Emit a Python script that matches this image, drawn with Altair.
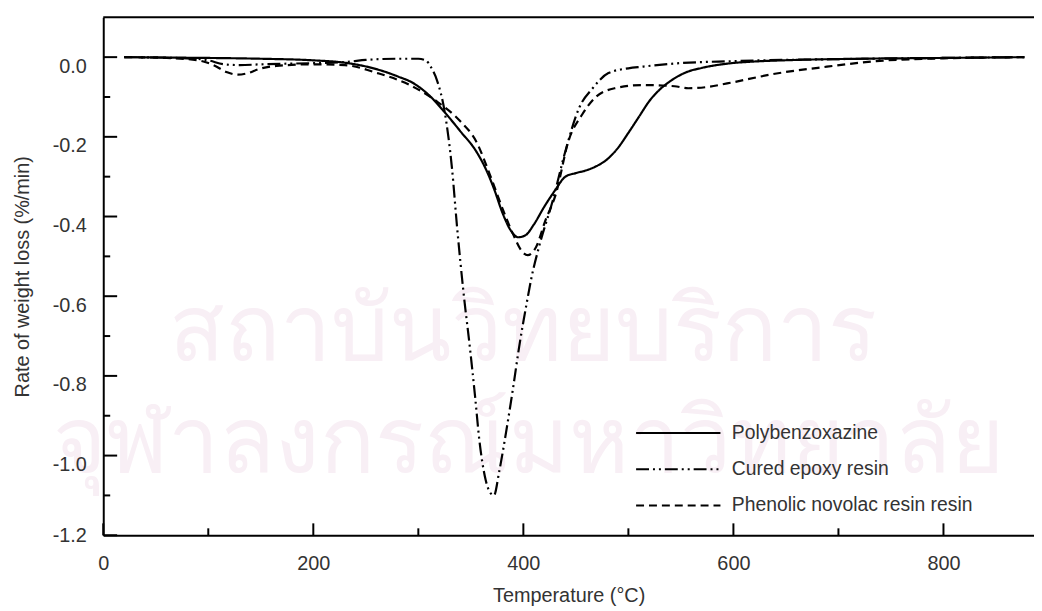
import altair as alt
import pandas as pd

# ---------------- data ----------------
series_names = ["Polybenzoxazine", "Cured epoxy resin", "Phenolic novolac resin resin"]

poly_T = [20, 60, 100, 150, 200, 230, 260, 280, 295, 310, 325, 340, 355, 365, 372, 380, 388, 395,
          402, 410, 420, 430, 440, 450, 460, 470, 480, 490, 500, 510, 520, 530, 540, 555, 570, 595,
          620, 660, 720, 800, 877]
poly_v = [0.0, -0.001, -0.002, -0.004, -0.008, -0.014, -0.030, -0.048, -0.065, -0.095, -0.138, -0.186,
          -0.236, -0.285, -0.330, -0.390, -0.435, -0.452, -0.447, -0.420, -0.375, -0.335, -0.300,
          -0.291, -0.284, -0.273, -0.256, -0.228, -0.190, -0.150, -0.110, -0.081, -0.060, -0.038,
          -0.027, -0.016, -0.011, -0.007, -0.004, -0.002, 0.0]

epoxy_T = [20, 80, 100, 115, 130, 150, 200, 232, 250, 280, 300, 307, 312, 318, 325, 332, 337, 343, 349,
           354, 358, 364, 369, 372, 377, 384, 390, 396, 403, 408, 415, 428, 440, 453, 466, 481, 500,
           513, 544, 600, 700, 800, 877]
epoxy_v = [0.0, -0.003, -0.008, -0.018, -0.020, -0.018, -0.015, -0.012, -0.007, -0.004, -0.004, -0.008,
           -0.025, -0.060, -0.136, -0.278, -0.430, -0.590, -0.727, -0.851, -0.959, -1.060, -1.095,
           -1.100, -1.040, -0.934, -0.834, -0.727, -0.620, -0.550, -0.475, -0.360, -0.236, -0.128,
           -0.078, -0.040, -0.028, -0.024, -0.016, -0.010, -0.005, -0.002, 0.0]

phen_T = [20, 60, 90, 105, 118, 128, 138, 148, 165, 200, 230, 261, 292, 317, 340, 355, 368, 381, 390,
          398, 404, 412, 421, 431, 443, 456, 469, 487, 513, 544, 557, 575, 594, 641, 689, 736, 800, 877]
phen_v = [0.0, -0.002, -0.008, -0.020, -0.038, -0.044, -0.040, -0.030, -0.022, -0.018, -0.020, -0.040,
          -0.070, -0.110, -0.161, -0.211, -0.294, -0.386, -0.443, -0.485, -0.497, -0.477, -0.410,
          -0.343, -0.210, -0.144, -0.100, -0.078, -0.070, -0.073, -0.078, -0.075, -0.066, -0.041,
          -0.024, -0.010, -0.003, 0.0]

x_major = [0, 200, 400, 600, 800]
x_minor = [100, 300, 500, 700]
y_major = [0.0, -0.2, -0.4, -0.6, -0.8, -1.0, -1.2]
y_minor = [-0.1, -0.3, -0.5, -0.7, -0.9, -1.1]

watermark_lines = ["สถาบันวิทยบริการ", "จุฬาลงกรณ์มหาวิทยาลัย"]

# ---------------- build tables ----------------
rows = []
for name, Ts, vs in zip(series_names, [poly_T, epoxy_T, phen_T], [poly_v, epoxy_v, phen_v]):
    for t, v in zip(Ts, vs):
        rows.append({"series": name, "T": t, "v": v})
df = pd.DataFrame(rows)

W, H = 938, 522
FONT = "Liberation Sans"
TXT = "#333333"

xs = alt.Scale(domain=[0, 886.2], nice=False, zero=False)
ys = alt.Scale(domain=[-1.2, 0.1], nice=False, zero=False)

x_axis = alt.Axis(values=x_major, ticks=False, tickSize=0, grid=False, domainColor="black",
                  domainWidth=2, labelFont=FONT, labelFontSize=20, labelColor=TXT, labelPadding=19,
                  labelFlush=False, zindex=1,
                  titleFont=FONT, titleFontSize=20, titleColor=TXT, titleFontWeight="normal",
                  titlePadding=12, format="d")
y_axis = alt.Axis(values=y_major, ticks=False, tickSize=0, grid=False, domainColor="black",
                  domainWidth=2, labelFont=FONT, labelFontSize=20, labelColor=TXT, labelPadding=17,
                  labelBaseline="middle", labelFlush=False, zindex=1,
                  labelOffset={"condition": {"test": "datum.value > -1.1", "value": 9}, "value": 0},
                  labelExpr="replace(format(datum.value, '.1f'), '\u2212', '-')",
                  titleFont=FONT, titleFontSize=20, titleColor=TXT, titleFontWeight="normal",
                  titlePadding=20)

x_enc = lambda f: alt.X(f"{f}:Q", scale=xs, axis=x_axis, title="Temperature (°C)")
y_enc = lambda f: alt.Y(f"{f}:Q", scale=ys, axis=y_axis, title="Rate of weight loss (%/min)")

wm = pd.DataFrame({"txt": watermark_lines})
WM_COLOR = "#f8eff5"
watermark = alt.layer(
    alt.Chart(wm.iloc[[0]]).mark_text(align="left", baseline="alphabetic", fontSize=92,
                                      font="Noto Sans", color=WM_COLOR).encode(
        text="txt:N", x=alt.value(66), y=alt.value(345)),
    alt.Chart(wm.iloc[[1]]).mark_text(align="left", baseline="alphabetic", fontSize=92,
                                      font="Noto Sans", color=WM_COLOR).encode(
        text="txt:N", x=alt.value(-51), y=alt.value(458)),
)

lines = alt.Chart(df).mark_line(color="black", strokeWidth=2.2, interpolate="monotone").encode(
    x=x_enc("T"),
    y=y_enc("v"),
    strokeDash=alt.StrokeDash(
        "series:N",
        scale=alt.Scale(domain=series_names, range=[[1, 0], [13, 4, 2, 4, 2, 4], [8, 5]]),
        legend=alt.Legend(orient="none", legendX=568.5, legendY=408, title=None, direction="vertical",
                          symbolType="M-4.25,0H4.25", symbolSize=400, symbolStrokeWidth=2,
                          symbolStrokeColor="black", labelFont=FONT, labelFontSize=19.5,
                          labelColor=TXT, labelOffset=43, labelLimit=0, rowPadding=15.5, padding=0),
    ),
)

xt_major = alt.Chart(pd.DataFrame({"T": x_major})).mark_rule(color="black", strokeWidth=2).encode(
    x=x_enc("T"), y=alt.value(H), y2=alt.value(H - 12))
xt_minor = alt.Chart(pd.DataFrame({"T": x_minor})).mark_rule(color="black", strokeWidth=2).encode(
    x=x_enc("T"), y=alt.value(H), y2=alt.value(H - 7))
yt_major = alt.Chart(pd.DataFrame({"v": y_major})).mark_rule(color="black", strokeWidth=2).encode(
    y=y_enc("v"), x=alt.value(0), x2=alt.value(14))
yt_minor = alt.Chart(pd.DataFrame({"v": y_minor})).mark_rule(color="black", strokeWidth=2).encode(
    y=y_enc("v"), x=alt.value(0), x2=alt.value(7))
top_border = alt.Chart(pd.DataFrame({"a": [0]})).mark_rule(color="black", strokeWidth=2).encode(
    x=alt.value(0), x2=alt.value(W), y=alt.value(0))

chart = alt.layer(watermark, lines, xt_major, xt_minor, yt_major, yt_minor, top_border).properties(
    width=W, height=H, autosize="none",
    padding={"left": 96, "top": 7, "right": 0, "bottom": 80},
).configure_view(stroke=None)

chart.save("out.html", embed_options={"renderer": "svg", "actions": False})
